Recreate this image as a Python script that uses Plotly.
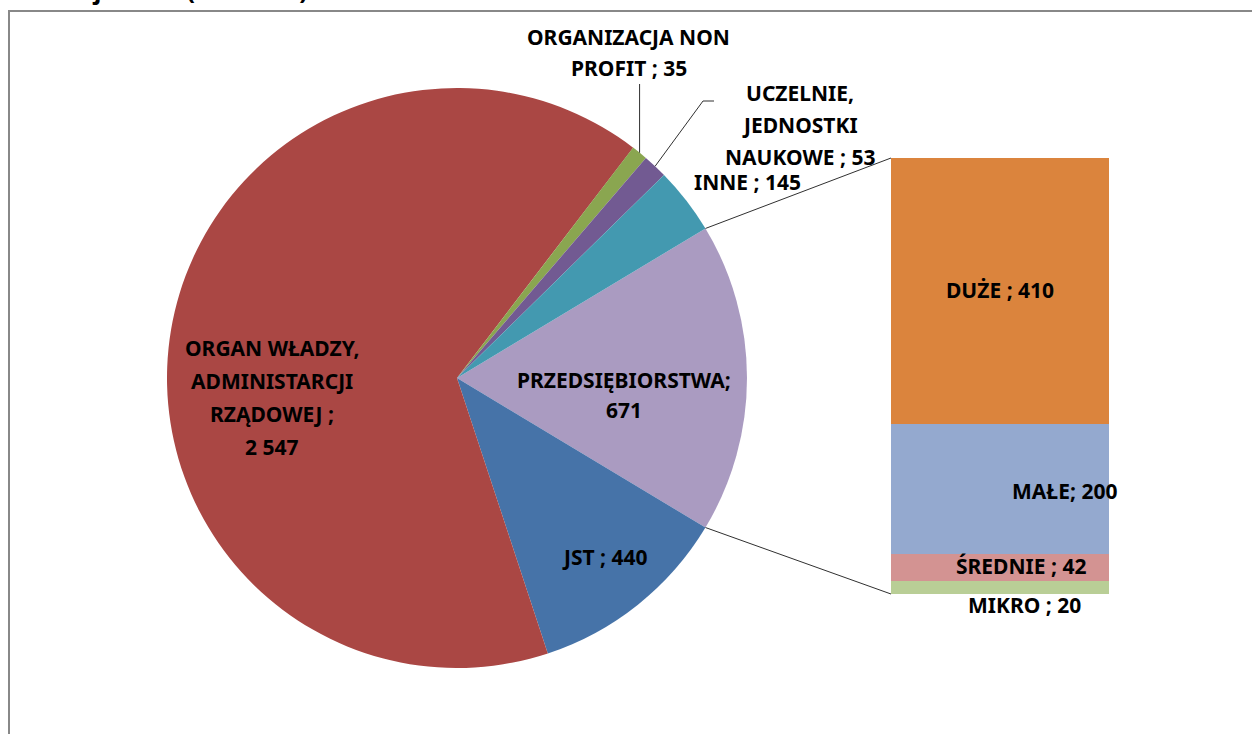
import math
import plotly.graph_objects as go

W, H = 1252, 734

# data
pie_labels = ["PRZEDSIĘBIORSTWA", "JST", "ORGAN WŁADZY, ADMINISTARCJI RZĄDOWEJ",
              "ORGANIZACJA NON PROFIT", "UCZELNIE, JEDNOSTKI NAUKOWE", "INNE"]
pie_values = [671, 440, 2547, 35, 53, 145]
pie_colors = ["#AA9BC1", "#4673A8", "#AA4744", "#8AA650", "#725A92", "#4399B0"]

bar_labels = ["MIKRO", "ŚREDNIE", "MAŁE", "DUŻE"]
bar_values = [20, 42, 200, 410]
bar_colors = ["#B9CE96", "#D39392", "#94A9CF", "#DB843D"]

title_text = "beneficjentów (mln PLN)"


def px_x(x):
    return x / W


def px_y(y):
    return 1 - y / H


# pie geometry (pixels)
cx, cy, r = 457, 378, 290
total = sum(pie_values)
first_frac = pie_values[0] / total
rotation = 90 - first_frac * 360 / 2

# bar geometry (pixels)
bx0, bx1, by0, by1 = 891, 1109, 158, 594

fig = go.Figure()

fig.add_trace(go.Pie(
    labels=pie_labels, values=pie_values, sort=False, direction="clockwise",
    rotation=rotation, marker=dict(colors=pie_colors, line=dict(width=0)),
    textinfo="none", hoverinfo="label+value", showlegend=False,
    domain=dict(x=[px_x(cx - r), px_x(cx + r)], y=[px_y(cy + r), px_y(cy - r)]),
))

for lab, val, col in zip(bar_labels, bar_values, bar_colors):
    fig.add_trace(go.Bar(
        x=[0], y=[val], name=lab, marker=dict(color=col, line=dict(width=0)),
        showlegend=False, xaxis="x", yaxis="y",
    ))

font_lbl = dict(family="Noto Sans, Open Sans, sans-serif", size=21, color="#000000")


def cum_angle(idx):
    # angle (deg, math convention) at the start boundary of slice idx
    start = sum(pie_values[:idx]) / total * 360
    return 90 - rotation - start


def pie_point(ang_deg):
    a = math.radians(ang_deg)
    return cx + r * math.cos(a), cy - r * math.sin(a)


# connector lines from the PRZEDSIĘBIORSTWA slice to the bar
top_x, top_y = pie_point(cum_angle(0))
bot_x, bot_y = pie_point(cum_angle(1))
shapes = [
    dict(type="line", xref="paper", yref="paper", x0=px_x(top_x), y0=px_y(top_y),
         x1=px_x(bx0), y1=px_y(by0), line=dict(color="#303030", width=1)),
    dict(type="line", xref="paper", yref="paper", x0=px_x(bot_x), y0=px_y(bot_y),
         x1=px_x(bx0), y1=px_y(by1), line=dict(color="#303030", width=1)),
]

# leader lines for small slices
mid_np = (cum_angle(3) + cum_angle(4)) / 2
np_x, np_y = pie_point(mid_np)
shapes.append(dict(type="line", xref="paper", yref="paper", x0=px_x(np_x), y0=px_y(np_y),
                   x1=px_x(np_x), y1=px_y(84), line=dict(color="#303030", width=1)))
mid_u = (cum_angle(4) + cum_angle(5)) / 2
u_x, u_y = pie_point(mid_u)
shapes.append(dict(type="path", xref="paper", yref="paper",
                   path="M {} {} L {} {} L {} {}".format(
                       px_x(u_x), px_y(u_y), px_x(703), px_y(101), px_x(714), px_y(101)),
                   line=dict(color="#303030", width=1)))

# chart frame
shapes.append(dict(type="rect", xref="paper", yref="paper", x0=px_x(9), y0=px_y(760),
                   x1=px_x(1280), y1=px_y(11), line=dict(color="#888888", width=2)))


def fmt(v):
    return f"{v:,}".replace(",", " ")


ann = []


def add_lbl(lines, x, y_first, step=32):
    # one annotation per line to get Excel-like line spacing
    for i, line in enumerate(lines):
        ann.append(dict(text="<b>" + line + "</b>", x=px_x(x), y=px_y(y_first + i * step),
                        xref="paper", yref="paper", showarrow=False, font=font_lbl,
                        xanchor="center", yanchor="middle"))


add_lbl(["ORGAN WŁADZY,", "ADMINISTARCJI", "RZĄDOWEJ ;", fmt(pie_values[2])], 272, 348, 33)
add_lbl(["PRZEDSIĘBIORSTWA;", fmt(pie_values[0])], 624, 380, 30)
add_lbl(["JST ; " + fmt(pie_values[1])], 605, 557)
add_lbl(["INNE ; " + fmt(pie_values[5])], 747, 182)
add_lbl(["UCZELNIE,", "JEDNOSTKI", "NAUKOWE ; " + fmt(pie_values[4])], 800, 93, 32)
add_lbl(["ORGANIZACJA NON", "PROFIT ; " + fmt(pie_values[3])], 629, 37, 31)
add_lbl(["DUŻE ; " + fmt(bar_values[3])], 1000, 290)
add_lbl(["MAŁE; " + fmt(bar_values[2])], 1064, 491)
add_lbl(["ŚREDNIE ; " + fmt(bar_values[1])], 1021, 566)
add_lbl(["MIKRO ; " + fmt(bar_values[0])], 1024, 605)

# title, mostly cut off by the top edge (as in the source image)
ann.append(dict(text="<b>" + title_text + "</b>", x=0, y=px_y(8), xref="paper", yref="paper",
                showarrow=False, xanchor="left", yanchor="bottom",
                font=dict(family="Noto Sans, sans-serif", size=25, color="#000000")))

fig.update_layout(
    width=W, height=H, margin=dict(l=0, r=0, t=0, b=0),
    paper_bgcolor="white", plot_bgcolor="rgba(0,0,0,0)",
    barmode="stack", bargap=0,
    xaxis=dict(domain=[px_x(bx0), px_x(bx1)], range=[-0.5, 0.5], visible=False, fixedrange=True),
    yaxis=dict(domain=[px_y(by1), px_y(by0)], range=[0, sum(bar_values)], visible=False, fixedrange=True),
    shapes=shapes, annotations=ann,
)

fig.write_html("out.html", config={"displayModeBar": False},
               post_script="document.body.style.margin='0';")
